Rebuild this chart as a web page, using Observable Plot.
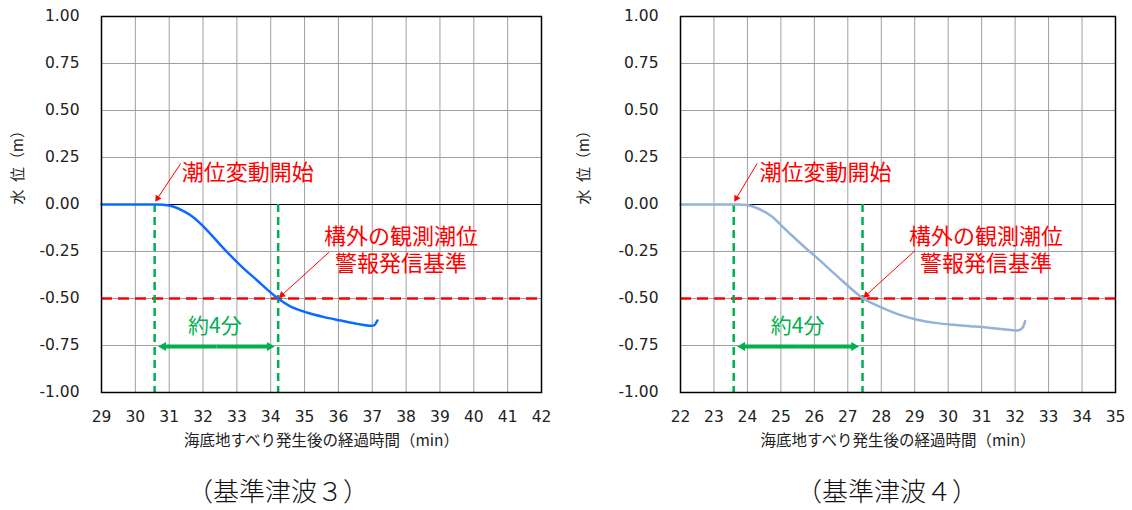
<!DOCTYPE html>
<html><head><meta charset="utf-8">
<script src="https://cdn.jsdelivr.net/npm/d3@7"></script>
<script src="https://cdn.jsdelivr.net/npm/@observablehq/plot@0.6"></script>
<style>
body{margin:0;background:#fff;}
#wrap{position:relative;width:1132px;height:510px;overflow:hidden;}
.panel{position:absolute;top:0;width:566px;height:510px;}
.cap{position:absolute;top:474px;font-family:"Noto Sans CJK JP";font-weight:300;font-size:26px;line-height:32px;white-space:nowrap;transform:translateX(-50%);color:#111;}
</style></head><body><div id="wrap"></div>
<script>
// ---------- data ----------
const xLabel = "海底地すべり発生後の経過時間（min）";
const yLabel = "水\u2002位（m）";
const yTicks = [-1.00, -0.75, -0.50, -0.25, 0.00, 0.25, 0.50, 0.75, 1.00];
const alarmLevel = -0.5;

// 基準津波3
const leftXTicks = [29,30,31,32,33,34,35,36,37,38,39,40,41,42];
const leftT = [29, 30, 30.6, 30.9, 31.2, 31.45, 31.7, 32.03, 32.62, 33.11, 33.6, 34.2, 34.59, 35.09, 35.58, 36.07, 36.56, 36.96, 37.06, 37.15];
const leftH = [0, 0, 0, -0.003, -0.016, -0.038, -0.066, -0.12, -0.236, -0.325, -0.404, -0.498, -0.543, -0.576, -0.599, -0.617, -0.635, -0.645, -0.642, -0.617];
const leftStart = 30.57, leftAlarm = 34.22;
const leftCaption = "（基準津波３）";

// 基準津波4
const rightXTicks = [22,23,24,25,26,27,28,29,30,31,32,33,34,35];
const rightT = [22, 23, 23.6, 23.99, 24.3, 24.69, 25.18, 25.68, 26.18, 26.68, 27.44, 27.87, 28.47, 29.07, 29.66, 30.16, 30.66, 31.15, 31.65, 32.08, 32.22, 32.3];
const rightH = [0, 0, 0, -0.003, -0.02, -0.059, -0.14, -0.222, -0.300, -0.381, -0.497, -0.537, -0.582, -0.613, -0.631, -0.64, -0.647, -0.654, -0.663, -0.670, -0.656, -0.62];
const rightStart = 23.59, rightAlarm = 27.44;
const rightCaption = "（基準津波４）";

const labelStart = "潮位変動開始";
const labelAlarm = "構外の観測潮位\n警報発信基準";
const labelDur = "約4分";

// ---------- drawing ----------
const W = 566, H = 455, MT = 16, MB = H - 392;
const RED = "#ff0000", GREEN = "#00b050";
const JP = "'Noto Sans CJK JP', sans-serif";

function head(sx, sy, x1, y1, x2, y2, side) {
  const px1 = sx.apply(x1), py1 = sy.apply(y1), px2 = sx.apply(x2), py2 = sy.apply(y2);
  const dx = px2 - px1, dy = py2 - py1, L = Math.hypot(dx, dy);
  const ux = dx / L, uy = dy / L;
  const back = (2 / 3) * side * Math.sqrt(3) / 2;
  const cx = px2 - ux * back, cy = py2 - uy * back;
  return {
    x1, y1, x2: sx.invert(cx), y2: sy.invert(cy),
    hx: sx.invert(cx), hy: sy.invert(cy),
    rotate: Math.atan2(dx, -dy) * 180 / Math.PI,
    r: Math.sqrt(side * side * Math.sqrt(3) / 4 / Math.PI)
  };
}

function panel(cfg) {
  const {xTicks, T, Hs, color, ml, mr, start, alarm, txtStart, txtAlarm, txtDur, arr1, arr2} = cfg;
  const domain = [xTicks[0], xTicks[xTicks.length - 1]];
  const sx = Plot.scale({x: {domain, range: [ml, W - mr]}});
  const sy = Plot.scale({y: {domain: [-1, 1], range: [H - MB, MT]}});
  const series = T.map((t, i) => ({t, h: Hs[i]}));
  const mid = (start + alarm) / 2, ay = -0.755;
  const green = [head(sx, sy, mid, ay, start, ay, 15), head(sx, sy, mid, ay, alarm, ay, 15)];
  const red = [head(sx, sy, arr1[0], arr1[1], start, 0.01, 9), head(sx, sy, arr2[0], arr2[1], alarm, alarmLevel, 9)];
  return Plot.plot({
    width: W, height: H,
    marginLeft: ml, marginRight: mr, marginTop: MT, marginBottom: MB,
    style: {fontSize: "15.5px", fontFamily: "'DejaVu Sans', 'Noto Sans CJK JP', sans-serif", color: "#222", background: "white", overflow: "visible"},
    x: {domain, ticks: xTicks, tickSize: 0, tickPadding: 18, tickFormat: d => String(d), label: null},
    y: {domain: [-1, 1], ticks: yTicks, tickSize: 0, tickPadding: 22, tickFormat: d => d.toFixed(2), label: null},
    marks: [
      Plot.ruleX(xTicks, {stroke: "#a0a0a0", strokeWidth: 1}),
      Plot.ruleY(yTicks, {stroke: "#a0a0a0", strokeWidth: 1}),
      Plot.ruleY([0], {stroke: "#000", strokeWidth: 1}),
      Plot.ruleY([alarmLevel], {stroke: RED, strokeWidth: 2.5, strokeDasharray: "11,6"}),
      Plot.ruleX([start, alarm], {y1: 0, y2: -1, stroke: GREEN, strokeWidth: 2.5, strokeDasharray: "8,5"}),
      Plot.line(series, {x: "t", y: "h", stroke: color, strokeWidth: 2.5, curve: "catmull-rom"}),
      Plot.frame({stroke: "#000", strokeWidth: 1.5}),
      Plot.link(green, {x1: "x1", y1: "y1", x2: "x2", y2: "y2", stroke: GREEN, strokeWidth: 4}),
      Plot.dot(green, {x: "hx", y: "hy", rotate: "rotate", r: d => d.r, symbol: "triangle", fill: GREEN, stroke: "none"}),
      Plot.link(red, {x1: "x1", y1: "y1", x2: "x2", y2: "y2", stroke: RED, strokeWidth: 1}),
      Plot.dot(red, {x: "hx", y: "hy", rotate: "rotate", r: d => d.r, symbol: "triangle", fill: RED, stroke: "none"}),
      Plot.text([labelStart], {x: txtStart[0], y: txtStart[1], text: d => d, textAnchor: "start", lineAnchor: "middle", fill: RED, fontSize: 22, fontFamily: JP}),
      Plot.text([labelAlarm], {x: txtAlarm, y: -0.238, text: d => d, textAnchor: "middle", lineAnchor: "middle", lineHeight: 1.2, fill: RED, fontSize: 22, fontFamily: JP}),
      Plot.text([labelDur], {x: txtDur, y: -0.65, text: d => d, textAnchor: "middle", lineAnchor: "middle", fill: GREEN, fontSize: 21, fontFamily: JP}),
      Plot.text([xLabel], {frameAnchor: "bottom", dy: 49, text: d => d, lineAnchor: "middle", fill: "#222", fontSize: 15.5, fontFamily: JP}),
      Plot.text([yLabel], {frameAnchor: "left", dx: -(ml - 18), rotate: -90, text: d => d, lineAnchor: "middle", fill: "#222", fontSize: 15, fontFamily: JP})
    ]
  });
}

const wrap = document.getElementById("wrap");
function addPanel(left, cfg, caption, capX) {
  const div = document.createElement("div");
  div.className = "panel";
  div.style.left = left + "px";
  div.appendChild(panel(cfg));
  const c = document.createElement("div");
  c.className = "cap";
  c.style.left = capX + "px";
  c.textContent = caption;
  div.appendChild(c);
  wrap.appendChild(div);
}

addPanel(0, {xTicks: leftXTicks, T: leftT, Hs: leftH, color: "#0a6cff", ml: 101, mr: 25,
  start: leftStart, alarm: leftAlarm, txtStart: [31.37, 0.17], txtAlarm: 37.85, txtDur: 32.35,
  arr1: [31.34, 0.218], arr2: [35.72, -0.254]}, leftCaption, 278);
addPanel(566, {xTicks: rightXTicks, T: rightT, Hs: rightH, color: "#95b3d7", ml: 114, mr: 17,
  start: rightStart, alarm: rightAlarm, txtStart: [24.36, 0.17], txtAlarm: 31.13, txtDur: 25.5,
  arr1: [24.29, 0.218], arr2: [29.01, -0.245]}, rightCaption, 887 - 566);
</script></body></html>
